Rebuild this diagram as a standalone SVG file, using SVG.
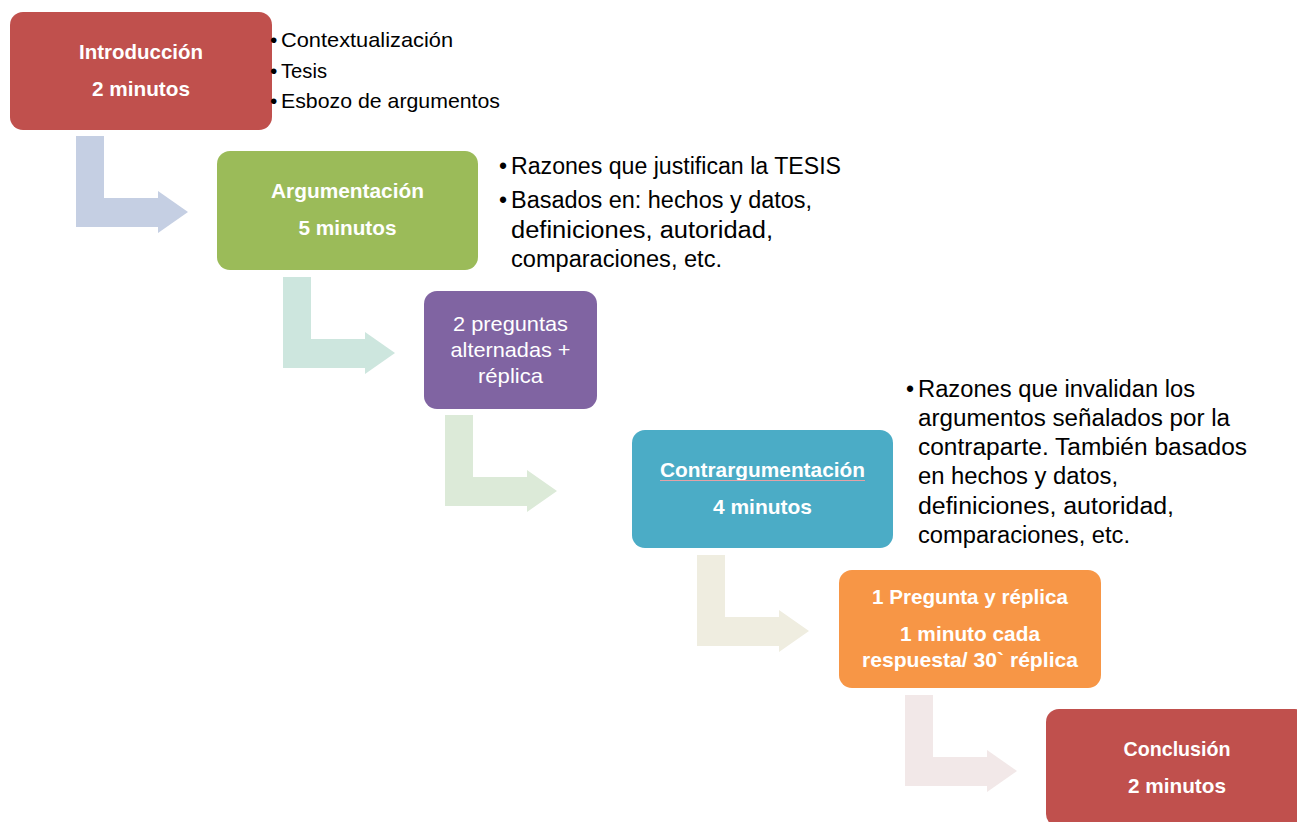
<svg xmlns="http://www.w3.org/2000/svg" width="1297" height="822" viewBox="0 0 1297 822">
  <style>
    .node-title { font-family: "Liberation Sans", Arial, sans-serif; font-weight: bold; font-size: 21px; fill: #FFFFFF; text-anchor: middle; }
    .node-plain { font-family: "Liberation Sans", Arial, sans-serif; font-size: 21px; fill: #FFFFFF; text-anchor: middle; }
    .note { font-family: "Liberation Sans", Arial, sans-serif; font-size: 23px; fill: #000000; }
    .note-s { font-family: "Liberation Sans", Arial, sans-serif; font-size: 21px; fill: #000000; }
  </style>
  <defs>
    <path id="bent-arrow" d="M0,0 H28 V62 H82 V55 L112,76 L82,97 V91 H0 Z"/>
  </defs>
  <rect width="1297" height="822" fill="#FFFFFF"/>

  <g id="connectors">
    <use href="#bent-arrow" x="76" y="136" fill="#C5CFE3"/>
    <use href="#bent-arrow" x="283" y="277" fill="#CDE6DE"/>
    <use href="#bent-arrow" x="445" y="415" fill="#DCEAD8"/>
    <use href="#bent-arrow" x="697" y="555" fill="#EFEDE0"/>
    <use href="#bent-arrow" x="905" y="695" fill="#F2E8E8"/>
  </g>

  <g id="node-introduccion">
    <rect x="10" y="12" width="262" height="118" rx="13" fill="#C0504D"/>
    <text class="node-title" x="141" y="59" textLength="124" lengthAdjust="spacingAndGlyphs">Introducción</text>
    <text class="node-title" x="141" y="96" textLength="98" lengthAdjust="spacingAndGlyphs">2 minutos</text>
  </g>
  <g id="notes-introduccion">
    <text class="note-s" x="270" y="47">•</text>
    <text class="note-s" x="281" y="47" textLength="172" lengthAdjust="spacingAndGlyphs">Contextualización</text>
    <text class="note-s" x="270" y="78">•</text>
    <text class="note-s" x="281" y="78" textLength="46" lengthAdjust="spacingAndGlyphs">Tesis</text>
    <text class="note-s" x="270" y="108">•</text>
    <text class="note-s" x="281" y="108" textLength="219" lengthAdjust="spacingAndGlyphs">Esbozo de argumentos</text>
  </g>

  <g id="node-argumentacion">
    <rect x="217" y="151" width="261" height="119" rx="13" fill="#9BBB59"/>
    <text class="node-title" x="347.5" y="198" textLength="153" lengthAdjust="spacingAndGlyphs">Argumentación</text>
    <text class="node-title" x="347.5" y="235" textLength="98" lengthAdjust="spacingAndGlyphs">5 minutos</text>
  </g>
  <g id="notes-argumentacion">
    <text class="note" x="499" y="174">•</text>
    <text class="note" x="511" y="174" textLength="330" lengthAdjust="spacingAndGlyphs">Razones que justifican la TESIS</text>
    <text class="note" x="499" y="208">•</text>
    <text class="note" x="511" y="208" textLength="301" lengthAdjust="spacingAndGlyphs">Basados en: hechos y datos,</text>
    <text class="note" x="511" y="238" textLength="262" lengthAdjust="spacingAndGlyphs">definiciones, autoridad,</text>
    <text class="note" x="511" y="267" textLength="211" lengthAdjust="spacingAndGlyphs">comparaciones, etc.</text>
  </g>

  <g id="node-preguntas">
    <rect x="424" y="291" width="173" height="118" rx="13" fill="#8064A2"/>
    <text class="node-plain" x="510.5" y="331" textLength="115" lengthAdjust="spacingAndGlyphs">2 preguntas</text>
    <text class="node-plain" x="510.5" y="357" textLength="120" lengthAdjust="spacingAndGlyphs">alternadas +</text>
    <text class="node-plain" x="510.5" y="383" textLength="65" lengthAdjust="spacingAndGlyphs">réplica</text>
  </g>

  <g id="node-contrargumentacion">
    <rect x="632" y="430" width="261" height="118" rx="13" fill="#4BACC6"/>
    <text class="node-title" x="762.5" y="477" textLength="205" lengthAdjust="spacingAndGlyphs">Contrargumentación</text>
    <line x1="660" y1="480.5" x2="865" y2="480.5" stroke="#E3A2A6" stroke-width="1.2"/>
    <text class="node-title" x="762.5" y="514" textLength="99" lengthAdjust="spacingAndGlyphs">4 minutos</text>
  </g>
  <g id="notes-contrargumentacion">
    <text class="note" x="906" y="397">•</text>
    <text class="note" x="918" y="397" textLength="277" lengthAdjust="spacingAndGlyphs">Razones que invalidan los</text>
    <text class="note" x="918" y="426" textLength="312" lengthAdjust="spacingAndGlyphs">argumentos señalados por la</text>
    <text class="note" x="918" y="455" textLength="329" lengthAdjust="spacingAndGlyphs">contraparte. También basados</text>
    <text class="note" x="918" y="484" textLength="200" lengthAdjust="spacingAndGlyphs">en hechos y datos,</text>
    <text class="note" x="918" y="514" textLength="256" lengthAdjust="spacingAndGlyphs">definiciones, autoridad,</text>
    <text class="note" x="918" y="543" textLength="212" lengthAdjust="spacingAndGlyphs">comparaciones, etc.</text>
  </g>

  <g id="node-pregunta-replica">
    <rect x="839" y="570" width="262" height="118" rx="13" fill="#F79646"/>
    <text class="node-title" x="970" y="604" textLength="196" lengthAdjust="spacingAndGlyphs">1 Pregunta y réplica</text>
    <text class="node-title" x="970" y="641" textLength="140" lengthAdjust="spacingAndGlyphs">1 minuto cada</text>
    <text class="node-title" x="970" y="667" textLength="216" lengthAdjust="spacingAndGlyphs">respuesta/ 30` réplica</text>
  </g>

  <g id="node-conclusion">
    <rect x="1046" y="709" width="262" height="118" rx="13" fill="#C0504D"/>
    <text class="node-title" x="1177" y="756" textLength="107" lengthAdjust="spacingAndGlyphs">Conclusión</text>
    <text class="node-title" x="1177" y="793" textLength="98" lengthAdjust="spacingAndGlyphs">2 minutos</text>
  </g>
</svg>
